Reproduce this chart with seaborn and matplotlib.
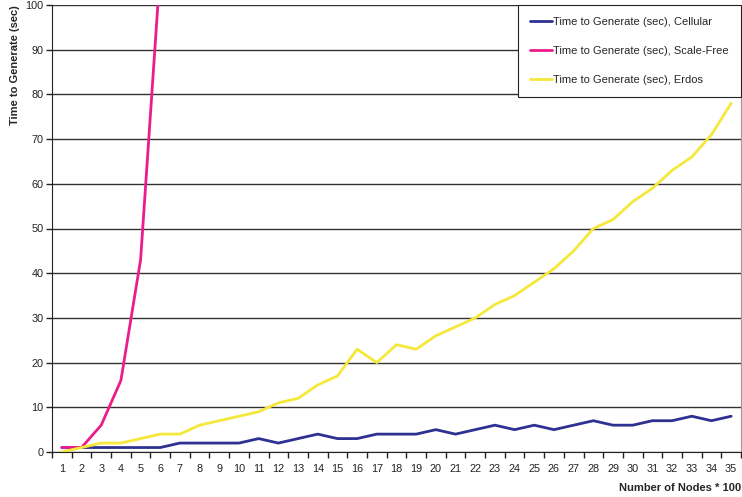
import matplotlib
matplotlib.use("Agg")
import matplotlib.pyplot as plt
import seaborn as sns
import pandas as pd
import numpy as np

nodes = list(range(1, 36))
cellular = [1, 1, 1, 1, 1, 1, 2, 2, 2, 2, 3, 2, 3, 4, 3, 3, 4, 4, 4, 5,
            4, 5, 6, 5, 6, 5, 6, 7, 6, 6, 7, 7, 8, 7, 8]
scale_free_nodes = [1, 2, 3, 4, 5, 6]
scale_free = [1, 1, 6, 16, 43, 108]
erdos = [0, 1, 2, 2, 3, 4, 4, 6, 7, 8, 9, 11, 12, 15, 17, 23, 20, 24, 23, 26,
         28, 30, 33, 35, 38, 41, 45, 50, 52, 56, 59, 63, 66, 71, 78]

names = ["Time to Generate (sec), Cellular",
         "Time to Generate (sec), Scale-Free",
         "Time to Generate (sec), Erdos"]
colors = ["#2E3192", "#EC1C8C", "#F5E83A"]

df = pd.concat([
    pd.DataFrame({"x": nodes, "y": cellular, "series": names[0]}),
    pd.DataFrame({"x": scale_free_nodes, "y": scale_free, "series": names[1]}),
    pd.DataFrame({"x": nodes, "y": erdos, "series": names[2]}),
])

sns.set_style("white")
plt.rcParams["font.family"] = ["Liberation Sans", "DejaVu Sans"]

fig = plt.figure(figsize=(7.42, 4.97), dpi=100)
ax = fig.add_axes([52/742, 45/497, (741-52)/742, (452-5)/497])

sns.lineplot(data=df, x="x", y="y", hue="series", palette=dict(zip(names, colors)),
             linewidth=2, ax=ax, legend=True)

ax.set_xlim(0.5, 35.5)
ax.set_ylim(0, 100)
ax.set_yticks(np.arange(0, 101, 10))
ax.set_xticks(nodes)
ax.set_xticks(np.arange(0.5, 36, 1), minor=True)
ax.tick_params(axis="x", which="major", length=0, pad=9, labelsize=7.8, colors="#222222")
ax.tick_params(axis="x", which="minor", length=4, width=1, direction="out", color="#222222", bottom=True)
ax.tick_params(axis="y", which="major", length=4, width=1, direction="out", labelsize=7.8,
               colors="#222222", left=True, pad=2)
ax.grid(axis="y", color="#333333", linewidth=1)
ax.set_axisbelow(True)
ax.spines["top"].set_visible(False)
ax.spines["right"].set_color("#999999")
ax.spines["left"].set_color("#222222")
ax.spines["bottom"].set_color("#222222")

ax.set_xlabel("")
ax.set_ylabel("Time to Generate (sec)", fontsize=8, fontweight="bold", loc="top")
ax.yaxis.set_label_coords(-(52 - 20) / 689, 1.0)
fig.text(741/742, 9/497, "Number of Nodes * 100", fontsize=8, fontweight="bold",
         ha="right", va="center")

leg = ax.legend(loc="upper right", bbox_to_anchor=(1.0, 1.0), fontsize=8,
                frameon=True, fancybox=False, edgecolor="#222222", framealpha=1,
                labelspacing=1.7, handlelength=2.0, handletextpad=0.1,
                borderpad=1.1, borderaxespad=0.0)
leg.get_frame().set_linewidth(0.8)

fig.savefig("out.png", dpi=100)
